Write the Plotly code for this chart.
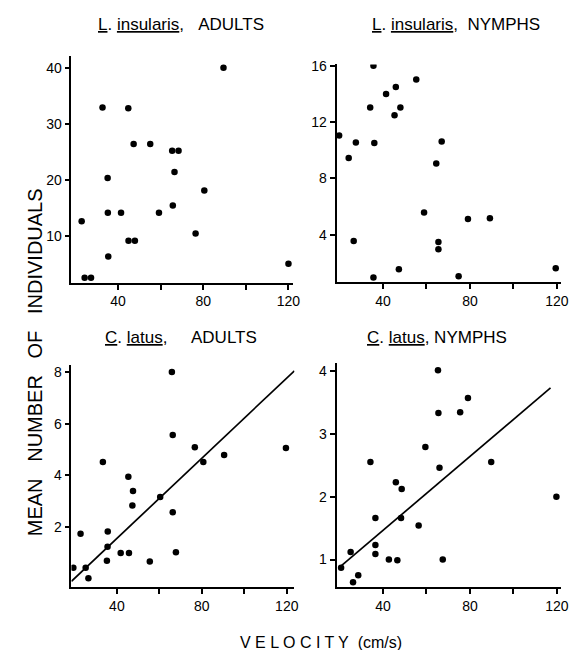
import plotly.graph_objects as go

W, H = 582, 650

# ---- data ----
tl_x = [22.9, 24.3, 27.3, 32.7, 35.1, 35.2, 35.4, 41.4, 44.8, 44.9, 47.9, 47.3, 55.1, 59.2, 65.4, 68.4, 66.5, 65.7, 76.4, 80.5, 89.5, 120]
tl_y = [12.6, 2.5, 2.5, 32.9, 20.3, 14.1, 6.3, 14.1, 32.8, 9.1, 9.1, 26.4, 26.4, 14.1, 25.2, 25.2, 21.4, 15.4, 10.4, 18.1, 40, 5.0]

tr_x = [19.8, 24.2, 27.5, 26.5, 34.1, 35.6, 36.0, 35.6, 41.4, 45.3, 45.9, 48.0, 47.3, 55.3, 58.9, 64.5, 67.0, 65.5, 65.5, 74.8, 79.1, 89.2, 119.5]
tr_y = [11.06, 9.46, 10.57, 3.54, 13.06, 16.03, 10.52, 0.95, 14.02, 12.5, 14.52, 13.06, 1.53, 15.04, 5.58, 9.06, 10.64, 3.47, 2.95, 1.04, 5.11, 5.16, 1.6]

bl_x = [19.5, 22.9, 25.3, 26.6, 33.4, 35.3, 35.6, 35.7, 41.8, 45.4, 45.7, 47.6, 47.3, 55.5, 60.4, 65.9, 66.3, 66.3, 67.8, 76.7, 80.7, 90.5, 119.6]
bl_y = [0.41, 1.73, 0.41, 0.0, 4.51, 0.68, 1.22, 1.81, 0.98, 3.94, 0.98, 3.39, 2.82, 0.65, 3.15, 8.0, 5.56, 2.56, 1.01, 5.08, 4.51, 4.78, 5.05]
bl_fit_x = [18.6, 123.6]
bl_fit_y = [-0.12, 8.05]

br_x = [20.7, 25.1, 26.2, 28.6, 34.2, 36.5, 36.5, 36.5, 42.7, 45.9, 46.6, 48.6, 48.3, 56.4, 59.5, 65.3, 65.5, 66.0, 67.5, 75.5, 79.1, 89.8, 119.8]
br_y = [0.87, 1.12, 0.64, 0.75, 2.55, 1.66, 1.23, 1.09, 1.0, 2.23, 0.99, 2.12, 1.66, 1.54, 2.79, 4.01, 3.33, 2.46, 1.0, 3.34, 3.57, 2.55, 2.0]
br_fit_x = [19.8, 117.1]
br_fit_y = [0.87, 3.73]

x_tickvals = [40, 60, 80, 100, 120]
x_ticktext = ["40", "", "80", "", "120"]
tl_yticks = [10, 20, 30, 40]
tr_yticks = [4, 8, 12, 16]
bl_yticks = [2, 4, 6, 8]
br_yticks = [1, 2, 3, 4]

titles = [
    "<u>L</u>. <u>insularis</u>,\u00a0\u00a0\u00a0ADULTS",
    "<u>L</u>. <u>insularis</u>,\u00a0\u00a0NYMPHS",
    "<u>C</u>. <u>latus</u>,\u00a0\u00a0\u00a0\u00a0\u00a0ADULTS",
    "<u>C</u>. <u>latus</u>, NYMPHS",
]
y_title = "MEAN\u00a0\u00a0\u00a0NUMBER\u00a0\u00a0\u00a0OF\u00a0\u00a0\u00a0INDIVIDUALS"
x_title = "V E L O C I T Y\u00a0\u00a0(cm/s)"

FONT = "Liberation Sans"

def px_x(p):
    return p / W

def px_y(p):
    return 1 - p / H

fig = go.Figure()

marker = dict(color="black", size=6.5)
fig.add_trace(go.Scatter(x=tl_x, y=tl_y, mode="markers", marker=marker, xaxis="x", yaxis="y"))
fig.add_trace(go.Scatter(x=tr_x, y=tr_y, mode="markers", marker=marker, xaxis="x2", yaxis="y2"))
fig.add_trace(go.Scatter(x=bl_x, y=bl_y, mode="markers", marker=marker, xaxis="x3", yaxis="y3"))
fig.add_trace(go.Scatter(x=bl_fit_x, y=bl_fit_y, mode="lines", line=dict(color="black", width=1.7), xaxis="x3", yaxis="y3"))
fig.add_trace(go.Scatter(x=br_x, y=br_y, mode="markers", marker=marker, xaxis="x4", yaxis="y4"))
fig.add_trace(go.Scatter(x=br_fit_x, y=br_fit_y, mode="lines", line=dict(color="black", width=1.7), xaxis="x4", yaxis="y4"))

common = dict(showline=True, linecolor="black", linewidth=1.8, showgrid=False, zeroline=False,
              ticks="outside", ticklen=5, tickwidth=1.5, tickcolor="black",
              tickfont=dict(family=FONT, size=14, color="black"))

def xax(anchor, dom, rng):
    return dict(common, domain=dom, range=rng, anchor=anchor, tickvals=x_tickvals, ticktext=x_ticktext)

def yax(anchor, dom, rng, tv):
    return dict(common, domain=dom, range=rng, anchor=anchor, tickvals=tv)

fig.update_layout(
    width=W, height=H, margin=dict(l=0, r=0, t=0, b=0),
    paper_bgcolor="white", plot_bgcolor="white", showlegend=False,
    xaxis=xax("y", [px_x(72.3), px_x(296.7)], [18.1, 122.2]),
    yaxis=yax("x", [px_y(279.3), px_y(50)], [1.6, 42.2], tl_yticks),
    xaxis2=xax("y2", [px_x(340.7), px_x(568)], [18.64, 122.0]),
    yaxis2=yax("x2", [px_y(278.7), px_y(59)], [0.615, 16.12], tr_yticks),
    xaxis3=xax("y3", [px_x(72.3), px_x(298)], [18.6, 123.6]),
    yaxis3=yax("x3", [px_y(586.7), px_y(362.7)], [-0.35, 8.26], bl_yticks),
    xaxis4=xax("y4", [px_x(340.7), px_x(568)], [18.64, 122.0]),
    yaxis4=yax("x4", [px_y(586.7), px_y(360)], [0.559, 4.13], br_yticks),
)

title_pos = [(183, 19), (462, 19), (183, 334.5), (442, 334.5)]
for t, (cx, cy) in zip(titles, title_pos):
    fig.add_annotation(text=t, x=px_x(cx), y=px_y(cy), xref="paper", yref="paper",
                       showarrow=False, xanchor="center", yanchor="middle",
                       font=dict(family=FONT, size=17, color="black"))

fig.add_annotation(text=y_title, x=px_x(35), y=px_y(360), xref="paper", yref="paper",
                   showarrow=False, textangle=-90, xanchor="center", yanchor="middle",
                   font=dict(family=FONT, size=20, color="black"))
fig.add_annotation(text=x_title, x=px_x(325), y=px_y(642), xref="paper", yref="paper",
                   showarrow=False, xanchor="center", yanchor="middle",
                   font=dict(family=FONT, size=16, color="black"))

fig.write_html("out.html")
